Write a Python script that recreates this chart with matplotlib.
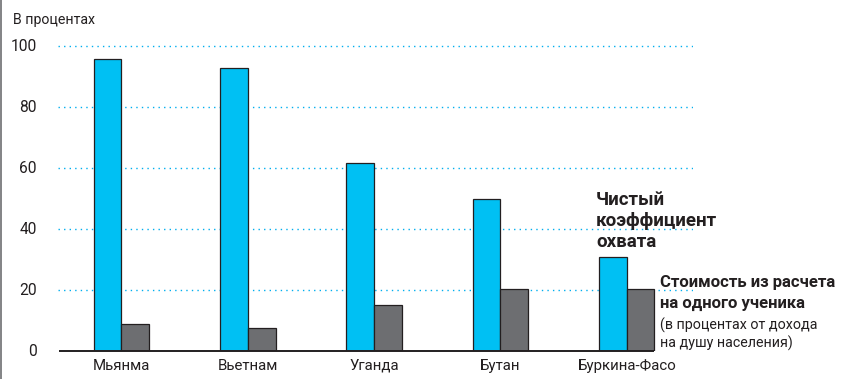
import matplotlib
matplotlib.use("Agg")
import matplotlib.pyplot as plt
from matplotlib.lines import Line2D

countries = ["Мьянма", "Вьетнам", "Уганда", "Бутан", "Буркина-Фасо"]
enrollment = [95.7, 93.0, 61.8, 50.0, 30.8]
cost_per_pupil = [9.0, 7.7, 15.3, 20.4, 20.3]
yticks = [0, 20, 40, 60, 80, 100]

plt.rcParams['font.family'] = ['Roboto', 'DejaVu Sans']

W, H = 843, 379
fig = plt.figure(figsize=(W / 100, H / 100), dpi=100)

# axes geometry in pixels
left_px, right_px = 58, 693
zero_px, top_px = 351.3, 46.3   # y pixel of 0 and 100
ymax = 102
ppu = (zero_px - top_px) / 100.0
ax_h = ppu * ymax
ax = fig.add_axes([left_px / W, (H - zero_px) / H, (right_px - left_px) / W, ax_h / H])

group_px0, group_step = 121.5, 126.3
ax.set_xlim((left_px - group_px0) / group_step, (right_px - group_px0) / group_step)
ax.set_ylim(0, ymax)

bw = 27.8 / group_step
xs = list(range(len(countries)))
blue = "#00C0F3"
gray = "#6D6E71"
edge = "#231F20"
txt = "#231F20"

for y in yticks[1:]:
    ax.axhline(y, color="#00AEEF", lw=1.0, linestyle=(0, (1, 3)), zorder=1)

ax.bar([x - bw / 2 for x in xs], enrollment, width=bw, color=blue,
       edgecolor=edge, linewidth=0.9, zorder=3)
ax.bar([x + bw / 2 for x in xs], cost_per_pupil, width=bw, color=gray,
       edgecolor=edge, linewidth=0.9, zorder=3)

# baseline
ax.plot([ax.get_xlim()[0] + 1 / group_step, xs[-1] + bw], [0, 0], color=edge,
        lw=1.4, zorder=4, solid_capstyle="butt", clip_on=False)

for s in ax.spines.values():
    s.set_visible(False)
ax.set_xticks([])
ax.set_yticks([])

# y tick labels
for y in yticks:
    fig.text(37 / W, (H - (zero_px - y * ppu)) / H, str(y), ha="right", va="center",
             fontsize=11.2, color=txt)

fig.text(13 / W, (H - 20) / H, "В процентах", ha="left", va="center",
         fontsize=10.2, color=txt)

for x, c in zip(xs, countries):
    ax.text(x, -4.8, c, ha="center", va="center", fontsize=10.8,
            color=txt, transform=ax.transData, clip_on=False)

# annotations
tx = 596 / W
for i, line in enumerate(["Чистый", "коэффициент", "охвата"]):
    fig.text(tx, (H - (200 + i * 21)) / H, line, ha="left", va="center",
             fontsize=13.5, fontweight="bold", color=txt)

tx2 = 660 / W
for i, line in enumerate(["Стоимость из расчета", "на одного ученика"]):
    fig.text(tx2, (H - (283 + i * 20.5)) / H, line, ha="left", va="center",
             fontsize=12, fontweight="bold", color=txt)
for i, line in enumerate(["(в процентах от дохода", "на душу населения)"]):
    fig.text(tx2, (H - (325.5 + i * 18)) / H, line, ha="left", va="center",
             fontsize=10.3, color=txt)

fig.add_artist(Line2D([0.6 / W, 0.6 / W], [0, 1], color="#6D6E71", lw=1.2,
                      transform=fig.transFigure))

fig.savefig("out.png", dpi=100, facecolor="white")
